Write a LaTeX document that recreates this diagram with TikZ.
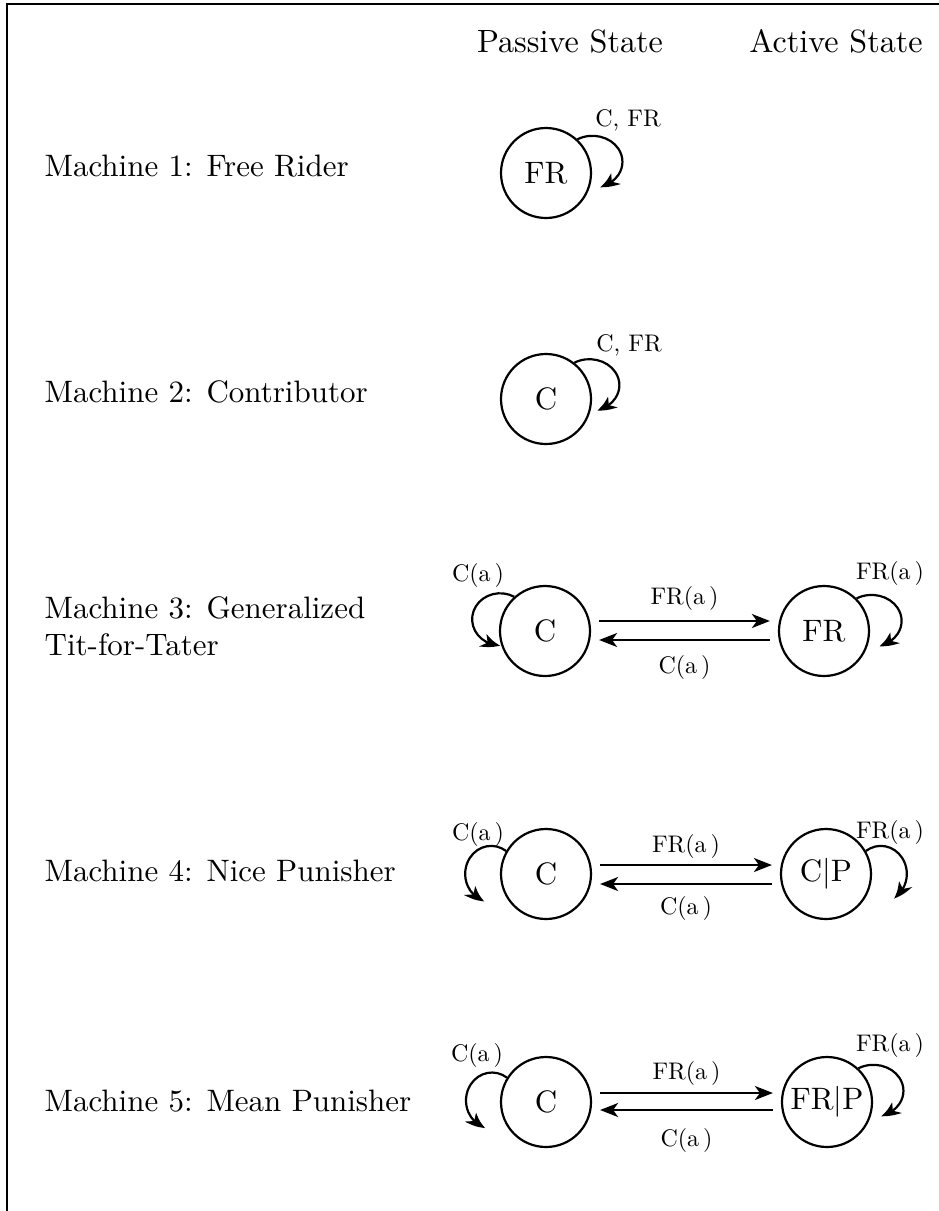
\documentclass[tikz,border=0pt]{standalone}
\usepackage{graphicx}
\usetikzlibrary{arrows.meta,bending}
\newcommand\Sbig[1]{\scalebox{3.1}{#1}}
\begin{document}
\begin{tikzpicture}[x=1pt,y=1pt,
  state/.style={circle, draw, line width=2.2pt, minimum size=90pt, inner sep=0pt},
  txt/.style={scale=3.1, inner sep=0pt, anchor=west},
  head/.style={scale=3.22, inner sep=0pt},
  lbl/.style={scale=2.4, inner sep=0pt},
  arr/.style={line width=2.2pt, -{Stealth[length=18pt,width=14pt,inset=5pt,bend]}},
  frameline/.style={line width=2.5pt}]
\useasboundingbox (0,0) rectangle (939,-1211);
\coordinate (tr) at (939,-4);
\coordinate (tl) at (7,-4);
\coordinate (bl) at (7,-1211);
\draw[frameline] (tr) -- (tl) -- (bl);
% headers
\node[head] (hp) at (570,-41) {Passive State};
\node[head] (ha) at (836,-41) {Active State};
% row 1
\node[txt] (t1) at (44,-166) {Machine 1: Free Rider};
\node[state] (a1) at (546,-173) {\Sbig{FR}};
\draw[arr] (a1.47) arc[start angle=120, end angle=-75, x radius=30, y radius=26];
\node[lbl] (l1) at (628,-120) {C, FR};
% row 2
\node[txt] (t2) at (44,-392) {Machine 2: Contributor};
\node[state] (a2) at (546,-399) {\Sbig{C}};
\draw[arr] (a2.52) arc[start angle=120, end angle=-75, x radius=30, y radius=26];
\node[lbl] (l2) at (629,-345) {C, FR};
% row 3
\node[txt, align=left] (t3) at (44,-626) {Machine 3: Generalized\\Tit-for-Tater};
\node[state] (a3) at (545,-631) {\Sbig{C}};
\node[state] (b3) at (824,-631) {\Sbig{FR}};
\draw[arr] ([shift={(8,10)}]a3.east) -- node[yshift=23pt, lbl] (f3) {FR(a\,)} ([shift={(-8,10)}]b3.west);
\draw[arr] ([shift={(-8,-9)}]b3.west) -- node[yshift=-27pt, lbl] (c3) {C(a\,)} ([shift={(8,-9)}]a3.east);
\draw[arr] (a3.132) arc[start angle=60, end angle=270, x radius=28, y radius=26];
\draw[arr] (b3.45) arc[start angle=120, end angle=-75, x radius=30, y radius=26];
\node[lbl] (la3) at (478,-575) {C(a\,)};
\node[lbl] (lb3) at (890,-573) {FR(a\,)};
% row 4
\node[txt] (t4) at (44,-871) {Machine 4: Nice Punisher};
\node[state] (a4) at (546,-874) {\Sbig{C}};
\node[state] (b4) at (826,-874) {\Sbig{C$|$P}};
\draw[arr] ([shift={(8,9)}]a4.east) -- node[yshift=19pt, lbl] (f4) {FR(a\,)} ([shift={(-8,9)}]b4.west);
\draw[arr] ([shift={(-8,-10)}]b4.west) -- node[yshift=-24pt, lbl] (c4) {C(a\,)} ([shift={(8,-10)}]a4.east);
\draw[arr] (a4.150) arc[start angle=55, end angle=255, x radius=26, y radius=28];
\draw[arr] (b4.30) arc[start angle=125, end angle=-60, x radius=26, y radius=28];
\node[lbl] (la4) at (478,-834) {C(a\,)};
\node[lbl] (lb4) at (890,-832) {FR(a\,)};
% row 5
\node[txt] (t5) at (44,-1101) {Machine 5: Mean Punisher};
\node[state] (a5) at (546,-1102) {\Sbig{C}};
\node[state] (b5) at (827,-1102) {\Sbig{FR$|$P}};
\draw[arr] ([shift={(8,9)}]a5.east) -- node[yshift=20pt, lbl] (f5) {FR(a\,)} ([shift={(-8,9)}]b5.west);
\draw[arr] ([shift={(-8,-8)}]b5.west) -- node[yshift=-30pt, lbl] (c5) {C(a\,)} ([shift={(8,-8)}]a5.east);
\draw[arr] (a5.148) arc[start angle=55, end angle=255, x radius=26, y radius=28];
\draw[arr] (b5.47) arc[start angle=120, end angle=-75, x radius=30, y radius=26];
\node[lbl] (la5) at (477,-1055) {C(a\,)};
\node[lbl] (lb5) at (890,-1045) {FR(a\,)};
\end{tikzpicture}
\end{document}
